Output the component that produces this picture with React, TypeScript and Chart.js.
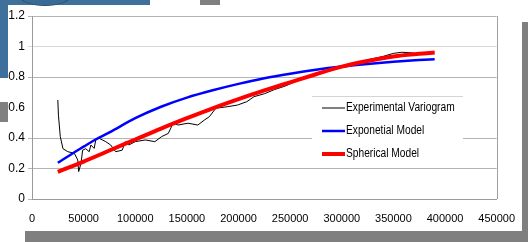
import React, { useEffect, useRef } from "react";
import { Chart, registerables } from "chart.js";
Chart.register(...registerables);

const FONT = "'Liberation Sans', Arial, sans-serif";

// Experimental variogram (lag distance, semivariance)
const expX = [25000, 25600, 27400, 30000, 34700, 41000, 44300, 45200, 47500, 49000, 52000, 55400, 57000, 60200, 61800, 65000, 71400, 76200, 81000, 87300, 90500, 93700, 100000, 109700, 119000, 125500, 132000, 136700, 141500, 151000, 160600, 167000, 171800, 178000, 189000, 199000, 208000, 215000, 225000, 235000, 245000, 260000, 280000, 300000, 320000, 340000, 350000, 358000, 365000, 370000];
const expY = [0.649, 0.55, 0.409, 0.33, 0.31, 0.30, 0.256, 0.18, 0.234, 0.32, 0.33, 0.31, 0.354, 0.332, 0.387, 0.398, 0.376, 0.354, 0.31, 0.32, 0.376, 0.354, 0.376, 0.387, 0.376, 0.409, 0.43, 0.497, 0.485, 0.497, 0.485, 0.518, 0.54, 0.595, 0.605, 0.616, 0.638, 0.671, 0.69, 0.718, 0.74, 0.785, 0.83, 0.87, 0.905, 0.935, 0.955, 0.962, 0.96, 0.956];

// Exponential model
const blueX = [25000, 40000, 50000, 62000, 75000, 100000, 125000, 150000, 175000, 200000, 225000, 250000, 275000, 300000, 325000, 350000, 375000, 390000];
const blueY = [0.238, 0.302, 0.343, 0.392, 0.437, 0.53, 0.605, 0.665, 0.713, 0.755, 0.792, 0.822, 0.848, 0.869, 0.886, 0.9, 0.911, 0.917];

// Spherical model
const redX = [25000, 50000, 75000, 100000, 125000, 150000, 175000, 200000, 225000, 250000, 275000, 300000, 325000, 350000, 375000, 390000];
const redY = [0.178, 0.245, 0.318, 0.39, 0.462, 0.53, 0.595, 0.655, 0.712, 0.765, 0.818, 0.868, 0.905, 0.935, 0.952, 0.96];

const xTickMax = 450000;
const xStep = 50000;
const yTickMax = 1.2;
const yStep = 0.2;

const legendItems = [
  { label: "Experimental Variogram", color: "#000000", width: 1 },
  { label: "Exponetial Model", color: "#0000ff", width: 2.5 },
  { label: "Spherical Model", color: "#ff0000", width: 4 },
];

const zip = (xs: number[], ys: number[]) => xs.map((x, i) => ({ x, y: ys[i] }));

const framePlugin = {
  id: "frame",
  afterDraw(chart: any) {
    const { ctx, chartArea } = chart;
    ctx.save();
    ctx.strokeStyle = "#a0a0a0";
    ctx.lineWidth = 1;
    ctx.beginPath();
    ctx.moveTo(Math.round(chartArea.right) + 0.5, chartArea.top);
    ctx.lineTo(Math.round(chartArea.right) + 0.5, chartArea.bottom);
    ctx.stroke();
    ctx.restore();
  },
};

const legendPlugin = {
  id: "customLegend",
  afterDatasetsDraw(chart: any) {
    const { ctx, chartArea } = chart;
    const x0 = chartArea.left + 280;
    const y0 = chartArea.top + 80;
    const w = 151;
    const h = 70;
    ctx.save();
    ctx.fillStyle = "#ffffff";
    ctx.fillRect(x0, y0, w, h);
    ctx.strokeStyle = "#d4d4d4";
    ctx.lineWidth = 1;
    ctx.beginPath();
    ctx.moveTo(x0, y0 + 0.5);
    ctx.lineTo(x0 + w, y0 + 0.5);
    ctx.stroke();
    ctx.font = "12px " + FONT;
    ctx.textBaseline = "middle";
    ctx.fillStyle = "#000";
    legendItems.forEach((it, i) => {
      const y = y0 + 12 + i * 23;
      ctx.strokeStyle = it.color;
      ctx.lineWidth = it.width;
      ctx.beginPath();
      ctx.moveTo(x0 + 10, y);
      ctx.lineTo(x0 + 33, y);
      ctx.stroke();
      ctx.save();
      ctx.translate(x0 + 34, y);
      ctx.scale(0.85, 1);
      ctx.fillText(it.label, 0, 0);
      ctx.restore();
    });
    ctx.restore();
  },
};

export default function App() {
  const ref = useRef<HTMLCanvasElement | null>(null);
  useEffect(() => {
    if (!ref.current) return;
    const chart = new Chart(ref.current, {
      type: "scatter",
      data: {
        datasets: [
          {
            label: "Spherical Model",
            data: zip(redX, redY),
            showLine: true,
            borderColor: "#ff0000",
            borderWidth: 4,
            pointRadius: 0,
            cubicInterpolationMode: "monotone",
            order: 0,
          },
          {
            label: "Exponetial Model",
            data: zip(blueX, blueY),
            showLine: true,
            borderColor: "#0000ff",
            borderWidth: 2.5,
            pointRadius: 0,
            cubicInterpolationMode: "monotone",
            order: 1,
          },
          {
            label: "Experimental Variogram",
            data: zip(expX, expY),
            showLine: true,
            borderColor: "#000000",
            borderWidth: 1,
            pointRadius: 0,
            tension: 0,
            order: 2,
          },
        ],
      } as any,
      options: {
        animation: false,
        responsive: false,
        maintainAspectRatio: false,
        layout: { padding: { left: 0, top: 16, right: 25, bottom: 0 } },
        plugins: { legend: { display: false }, tooltip: { enabled: false } },
        scales: {
          x: {
            type: "linear",
            min: 0,
            max: xTickMax,
            afterFit: (s: any) => {
              s.height = 43;
            },
            ticks: {
              stepSize: xStep,
              padding: 13,
              maxRotation: 0,
              color: "#000",
              font: { family: FONT, size: 11 },
              callback: (v: any) => String(v),
            },
            grid: { drawOnChartArea: false, drawTicks: false },
            border: { color: "#9a9a9a" },
          },
          y: {
            min: 0,
            max: yTickMax,
            afterFit: (s: any) => {
              s.width = 32;
            },
            ticks: {
              stepSize: yStep,
              padding: 3,
              color: "#000",
              font: { family: FONT, size: 12 },
              callback: (v: any) => String(Math.round(v * 10) / 10),
            },
            grid: {
              tickLength: 4,
              color: (c: any) => {
                const v = Math.round((c.tick ? c.tick.value : 0) * 10) / 10;
                if (v === 0.6) return "rgba(0,0,0,0)";
                if (v === 1) return "#d8d8d8";
                return "#b4b4b4";
              },
            },
            border: { color: "#9a9a9a" },
          },
        },
      } as any,
      plugins: [legendPlugin, framePlugin],
    });
    return () => chart.destroy();
  }, []);

  return (
    <div style={{ position: "absolute", left: 0, top: 0, width: 528, height: 242, overflow: "hidden", background: "#fff" }}>
      <div style={{ position: "absolute", left: 0, top: 0, width: 8, height: 78, background: "#3f6f9b" }} />
      <div style={{ position: "absolute", left: 0, top: 0, width: 150, height: 5, background: "#3f6f9b" }} />
      <div style={{ position: "absolute", left: 20, top: -12, width: 48, height: 16, borderRadius: "50%", border: "1px solid #2a4f73", background: "#3a6a96" }} />
      <div style={{ position: "absolute", left: 200, top: 0, width: 20, height: 5, background: "#808080" }} />
      <div style={{ position: "absolute", left: 0, top: 102, width: 8, height: 20, background: "#808080" }} />
      <div style={{ position: "absolute", left: 522, top: 22, width: 6, height: 220, background: "#7f7f7f" }} />
      <div style={{ position: "absolute", left: 25, top: 231, width: 503, height: 11, background: "#7f7f7f" }} />
      <canvas ref={ref} width={528} height={242} style={{ position: "absolute", left: 0, top: 0 }} />
    </div>
  );
}
